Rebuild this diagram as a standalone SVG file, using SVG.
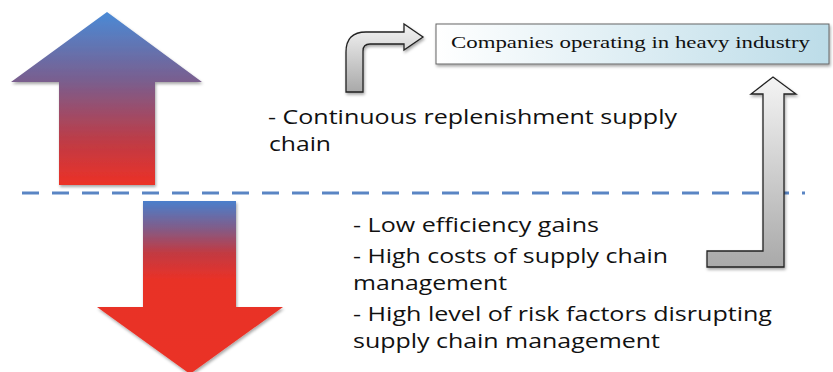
<svg xmlns="http://www.w3.org/2000/svg" width="833" height="372" viewBox="0 0 833 372">
<style>
.txt{font-family:"Open Sans","Liberation Sans",sans-serif;font-size:20px;fill:#111}
.ser{font-family:"Liberation Serif","Times New Roman",serif;font-size:17px;fill:#111}
.gray{stroke:#222;stroke-width:1.3}
</style>
<defs>
<linearGradient id="upG" x1="0" y1="0" x2="0" y2="1">
<stop offset="0" stop-color="#4A8AD6"/>
<stop offset="0.4" stop-color="#7A5E8E"/>
<stop offset="0.75" stop-color="#BF3B45"/>
<stop offset="1" stop-color="#EC3126"/>
</linearGradient>
<linearGradient id="downG" x1="0" y1="0" x2="0" y2="1">
<stop offset="0" stop-color="#4A7FCC"/>
<stop offset="0.15" stop-color="#7E5E8C"/>
<stop offset="0.3" stop-color="#C23A42"/>
<stop offset="0.45" stop-color="#E83228"/>
<stop offset="1" stop-color="#EA3226"/>
</linearGradient>
<linearGradient id="boxG" x1="0" y1="0" x2="1" y2="0">
<stop offset="0" stop-color="#FFFFFF"/>
<stop offset="1" stop-color="#BCDCE8"/>
</linearGradient>
<linearGradient id="grayG" x1="0" y1="0" x2="0" y2="1">
<stop offset="0" stop-color="#F4F4F4"/>
<stop offset="1" stop-color="#A9A9A9"/>
</linearGradient>
<filter id="sh" x="-10%" y="-10%" width="125%" height="125%">
<feDropShadow dx="1" dy="2" stdDeviation="1.5" flood-color="#000" flood-opacity="0.35"/>
</filter>
</defs>
<g id="connectors">
<line x1="22" y1="193" x2="805" y2="193" stroke="#5A85C4" stroke-width="3" stroke-dasharray="17 13"/>
</g>
<g id="up-arrow">
<path d="M107,12 L202,82 L155,82 L155,185 L59,185 L59,82 L11,82 Z" fill="url(#upG)" filter="url(#sh)"/>
</g>
<g id="down-arrow">
<path d="M143,201 L236,201 L236,307 L283,307 L190,374 L97,307 L143,307 Z" fill="url(#downG)" filter="url(#sh)"/>
</g>
<g id="bent-arrow">
<path class="gray" d="M346,92 L346,52 Q346,32 366,32 L404,32 L404,24 L423,37 L404,50 L404,44 L370,44 Q363,44 363,51 L363,92 Z" fill="url(#grayG)" filter="url(#sh)"/>
</g>
<g id="right-arrow">
<path class="gray" d="M707,251 L763,251 L763,94 L751,94 L773,77 L796,94 L784,94 L784,267 L707,267 Z" fill="url(#grayG)" filter="url(#sh)"/>
</g>
<g id="box">
<rect x="436" y="24" width="393" height="40" fill="url(#boxG)" stroke="#666" stroke-width="1" filter="url(#sh)"/>
<text class="ser" x="451" y="48" textLength="359" lengthAdjust="spacingAndGlyphs">Companies operating in heavy industry</text>
</g>
<g id="text-up">
<text class="txt" x="268" y="124" textLength="409" lengthAdjust="spacingAndGlyphs">- Continuous replenishment supply</text>
<text class="txt" x="269" y="151" textLength="62" lengthAdjust="spacingAndGlyphs">chain</text>
</g>
<g id="text-down">
<text class="txt" x="353" y="232" textLength="246" lengthAdjust="spacingAndGlyphs">- Low efficiency gains</text>
<text class="txt" x="353" y="263" textLength="315" lengthAdjust="spacingAndGlyphs">- High costs of supply chain</text>
<text class="txt" x="353" y="290" textLength="154" lengthAdjust="spacingAndGlyphs">management</text>
<text class="txt" x="353" y="321" textLength="419" lengthAdjust="spacingAndGlyphs">- High level of risk factors disrupting</text>
<text class="txt" x="353" y="348" textLength="307" lengthAdjust="spacingAndGlyphs">supply chain management</text>
</g>
</svg>
